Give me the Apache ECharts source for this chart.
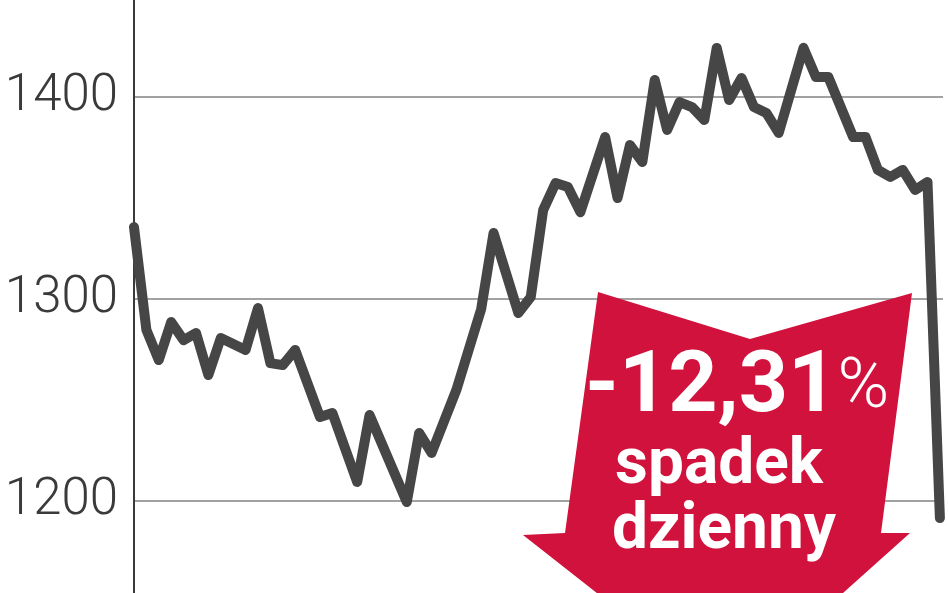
<!DOCTYPE html>
<html>
<head>
<meta charset="utf-8">
<script src="https://cdn.jsdelivr.net/npm/echarts@6/dist/echarts.min.js"></script>
<style>
html,body{margin:0;padding:0;background:#fff;}
#c{width:948px;height:593px;}
</style>
</head>
<body>
<div id="c"></div>
<script>
// Trading-day index of each turning point of the line
const days = [0,1,2,3,4,5,6,7,9,10,11,12,13,15,16,18,19,22,23,24,26,28,29,31,32,33,34,35,36,38,39,40,41,42,43,44,45,46,47,48,49,50,51,52,54,55,56,58,59,60,61,62,63,64,65];
// Index value at those days
const values = [1335.6,1284.7,1269.8,1288.6,1279.7,1283.2,1262.4,1280.7,1274.8,1295.5,1268.3,1267.3,1274.8,1241.6,1243.6,1209.4,1242.6,1199.5,1233.7,1223.8,1255,1295,1332.7,1293.1,1301,1344,1357.4,1355.4,1343,1380.2,1350,1376.2,1367.8,1408.4,1383.7,1397.5,1395,1388.6,1424.3,1398.5,1409.4,1395,1392.1,1382.2,1424.3,1409.9,1409.9,1380.2,1380.2,1363.9,1360.4,1363.9,1354,1357.9,1191.6];
const yTicks = [1200,1300,1400];
const yMin = 1154.5, yMax = 1448;
const changeText = '-12,31';
const changeLine2 = 'spadek';
const changeLine3 = 'dzienny';

const seriesData = days.map((d,i)=>[d, values[i]]);
const chart = echarts.init(document.getElementById('c'), null, {renderer:'canvas'});
chart.setOption({
  animation:false,
  grid:{left:134, right:5, top:0, bottom:0, containLabel:false},
  xAxis:{type:'value', min:0, max:65.25, show:false},
  yAxis:{
    type:'value', min:yMin, max:yMax,
    axisLine:{show:true, lineStyle:{color:'#3a3a3a', width:2}},
    axisTick:{show:false, customValues:yTicks},
    splitLine:{show:true, lineStyle:{color:'#a2a2a2', width:2}},
    axisLabel:{customValues:yTicks, formatter:v=>String(v), margin:16, color:'#3a3a3a', fontSize:51, fontFamily:'Roboto', fontWeight:300}
  },
  series:[{
    type:'line', data:seriesData, symbol:'none', z:3,
    lineStyle:{color:'#464646', width:10, cap:'round', join:'round'}
  }],
  graphic:[
    {type:'polygon', z:10, shape:{points:[[598,292],[750,339],[912,293],[881,533],[910,533],[728,696],[523,535],[565,533]]}, style:{fill:'#d0123c'}},
    {type:'text', z:11, left:585, top:346, style:{
      text:'{a|'+changeText+'}{b|%}', rich:{
        a:{fontSize:86, fontWeight:'bold', fontFamily:'Roboto', fill:'#fff'},
        b:{fontSize:70, fontWeight:300, fontFamily:'Roboto', fill:'#fff'}
      }}},
    {type:'text', z:11, left:615, top:435, style:{text:changeLine2, fontSize:64, fontWeight:'bold', fontFamily:'Roboto', fill:'#fff'}},
    {type:'text', z:11, left:612, top:500, style:{text:changeLine3, fontSize:64, fontWeight:'bold', fontFamily:'Roboto', fill:'#fff'}}
  ]
});
</script>
</body>
</html>
